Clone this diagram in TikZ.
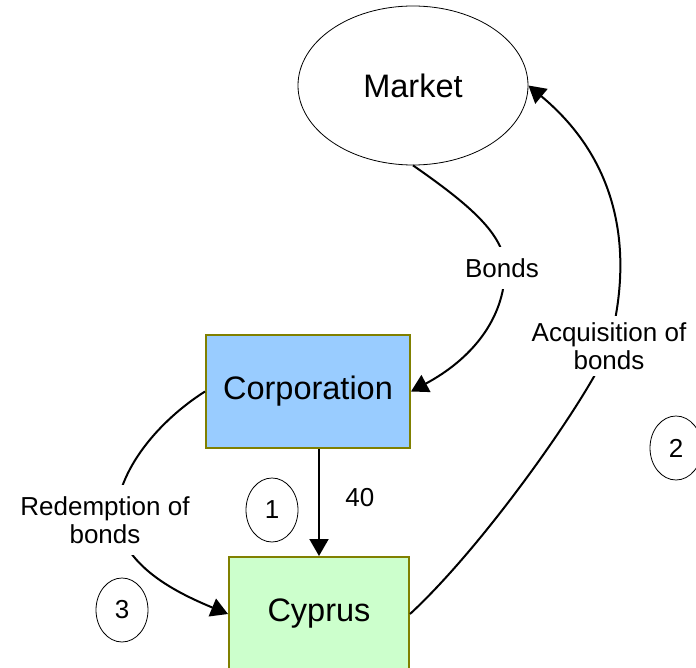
\documentclass[tikz,border=0pt]{standalone}
\usepackage{fontspec}
\setmainfont{Liberation Sans}
\usetikzlibrary{arrows.meta,shapes.geometric}
\definecolor{boxline}{HTML}{808000}
\definecolor{corpfill}{HTML}{99CCFF}
\definecolor{cypfill}{HTML}{CCFFCC}
\begin{document}
\begin{tikzpicture}[x=1pt,y=-1pt,
  bigtext/.style={font=\fontsize{32.5}{38}\selectfont},
  smalltext/.style={font=\fontsize{26}{28}\selectfont},
  entity/.style={draw=boxline, line width=2pt, bigtext, inner sep=0pt},
  marketnode/.style={ellipse, draw, line width=0.8pt, minimum width=230, minimum height=159, bigtext},
  stepmark/.style={ellipse, draw, line width=0.8pt, minimum width=52, minimum height=64, smalltext, inner sep=0pt},
  flow/.style={line width=2pt, -{Triangle[length=17pt,width=19pt]}},
  flowlabel/.style={smalltext, fill=white, align=center, inner xsep=2pt}]
\useasboundingbox (0,0) rectangle (696,668);

% participants
\node[marketnode] (market) at (413,85.5) {Market};
\node[entity, fill=corpfill, minimum width=204, minimum height=113] (corp) at (308,391.5) {Corporation};
\node[entity, fill=cypfill, minimum width=180, minimum height=114] (cyprus) at (319,614) {Cyprus};

% step numbers
\node[stepmark] (s1) at (272,510) {1};
\node[stepmark] (s2) at (676,448) {2};
\node[stepmark] (s3) at (122,610) {3};

% bonds issued to the market
\draw[flow] (market.south) .. controls (470,205) and (505,235) .. (505,268)
  node[flowlabel, inner ysep=11pt, xshift=-3pt] (lbonds) {Bonds}
  .. controls (505,320) and (470,360) .. (corp.east);

% loan of 40 to Cyprus
\draw[flow] (corp.south -| cyprus.north) -- (cyprus.north)
  node[pos=0.45, right=22pt, smalltext] (l40) {40};

% Cyprus buys the bonds back
\draw[flow] (cyprus.east) .. controls (490,540) and (596,385) .. (609,346)
  node[flowlabel, inner ysep=6pt] (lacq) {Acquisition of\\bonds}
  .. controls (635,250) and (618,160) .. (market.east);

% redemption
\draw[flow] (corp.west) .. controls (160,420) and (116,470) .. (116,520)
  node[flowlabel, inner ysep=11pt, xshift=-11pt] (lred) {Redemption of\\bonds}
  .. controls (125,565) and (170,590) .. (cyprus.west);
\end{tikzpicture}
\end{document}
